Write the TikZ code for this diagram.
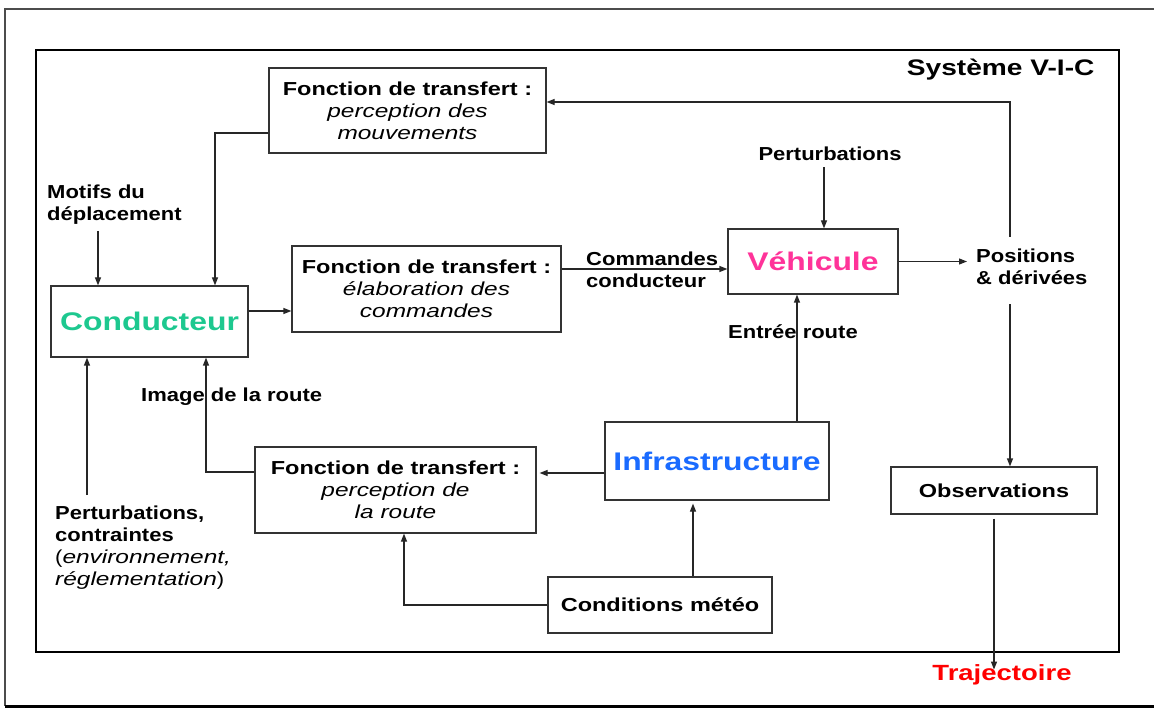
\documentclass[tikz,border=0pt]{standalone}
\usepackage{fontspec}
\setmainfont{Liberation Sans}[FakeStretch=1.25]
\newfontfamily\lblfont{Liberation Sans}[FakeStretch=1.17]
\newfontfamily\itfont{Liberation Sans}[FakeStretch=1.3]
\newcommand{\ittext}[1]{{\itfont\mdseries\itshape #1}}
\usetikzlibrary{arrows.meta}

\definecolor{condcol}{RGB}{29,200,143}
\definecolor{vehcol}{RGB}{255,51,153}
\definecolor{infcol}{RGB}{26,107,255}

\begin{document}
\begin{tikzpicture}[x=1pt, y=-1pt,
	every node/.style={font=\fontsize{18.8}{22}\selectfont\bfseries},
	box/.style={draw=black!80, line width=1.2pt, align=center, inner sep=0pt},
	big/.style={font=\fontsize{25.5}{30}\selectfont\bfseries},
	lbl/.style={align=left, inner sep=1pt, font=\lblfont\fontsize{18.8}{22}\selectfont\bfseries},
	arr/.style={draw=black!85, line width=1.2pt, -{Triangle[length=8pt,width=6pt]}}]
	\useasboundingbox (0, 0) rectangle (1154, 708);

	\draw[black!70, line width=1.5pt] (1160, 9) -- (5, 9) -- (5, 706);
	\draw[line width=3pt] (5, 706) -- (1160, 706);
	\draw[line width=2pt] (36, 50) rectangle (1119, 652);
	\node[anchor=east, font=\fontsize{22.5}{26}\selectfont\bfseries] (sys) at (1098, 70) {Système V-I-C};

	\node[box, minimum width=277pt, minimum height=85pt] (pm) at (407.5, 110.5)
		{Fonction de transfert :\\\ittext{perception des}\\\ittext{mouvements}};
	\node[box, minimum width=269pt, minimum height=86pt] (ec) at (426.5, 289)
		{Fonction de transfert :\\\ittext{élaboration des}\\\ittext{commandes}};
	\node[box, minimum width=281pt, minimum height=86pt] (pr) at (395.5, 490)
		{Fonction de transfert :\\\ittext{perception de}\\\ittext{la route}};

	\node[box, big, text=condcol, minimum width=197pt, minimum height=71pt] (cond) at (149.5, 321.5) {Conducteur};
	\node[box, big, text=vehcol, minimum width=170pt, minimum height=65pt] (veh) at (813, 261.5) {Véhicule};
	\node[box, big, text=infcol, minimum width=224pt, minimum height=78pt] (infra) at (717, 461) {Infrastructure};
	\node[box, minimum width=206pt, minimum height=47pt] (obs) at (994, 490.5) {Observations};
	\node[box, minimum width=224pt, minimum height=56pt] (meteo) at (660, 605) {Conditions météo};

	\node[lbl, anchor=west] (motifs) at (46, 205) {Motifs du\\déplacement};
	\node[lbl, anchor=west] (pc) at (54, 548)
		{Perturbations,\\contraintes\\{\mdseries(}\ittext{environnement,}\\\ittext{réglementation}{\mdseries)}};
	\node[lbl] (pert) at (830, 154) {Perturbations};
	\node[lbl, anchor=west] (cmd) at (585, 270) {Commandes\\conducteur};
	\node[lbl, anchor=west] (pos) at (975, 267) {Positions\\\& dérivées};
	\node[lbl, anchor=west] (entree) at (727, 332) {Entrée route};
	\node[lbl, anchor=west] (img) at (140, 397) {Image de la route};
	\node[inner sep=1pt, text=red, font=\fontsize{22}{26}\selectfont\bfseries] (traj) at (1002, 675) {Trajectoire};

	\draw[arr, shorten <=5pt] ([xshift=-51.5pt]cond.north |- motifs.south) -- ([xshift=-51.5pt]cond.north);
	\draw[arr] ([yshift=-22.5pt]pm.west) -| ([xshift=65.5pt]cond.north);
	\draw[arr] ([yshift=10.5pt]cond.east) -- ([yshift=-22pt]ec.west);
	\draw[arr] ([yshift=20pt]ec.east) -- ([yshift=-7.5pt]veh.west);
	\draw[arr] ([xshift=11pt,yshift=-5pt]pert.south -| veh.north) -- ([xshift=11pt]veh.north);
	\draw[arr, shorten >=8pt] (veh.east) -- (veh.east -| pos.west);
	\draw[arr] ([xshift=16pt,yshift=11pt]obs.north |- pos.north) |- ([yshift=8.5pt]pm.east);
	\draw[arr] ([xshift=16pt,yshift=-18pt]obs.north |- pos.south) -- ([xshift=16pt]obs.north);
	\draw[arr, shorten <=4pt, shorten >=-6pt] (obs.south) -- (obs.south |- traj.north);
	\draw[arr] ([xshift=80pt]infra.north) -- ([xshift=80pt]infra.north |- veh.south);
	\draw[arr, shorten >=3pt] ([yshift=-12pt]infra.west) -- ([yshift=-12pt]infra.west -| pr.east);
	\draw[arr] ([yshift=18pt]pr.west) -| ([xshift=56.5pt]cond.south);
	\draw[arr] (meteo.west) -| ([xshift=8.5pt]pr.south);
	\draw[arr, shorten >=3pt] ([xshift=33pt]meteo.north) -- ([xshift=33pt]meteo.north |- infra.south);
	\draw[arr, shorten <=10pt] ([xshift=-62.5pt]cond.south |- pc.north) -- ([xshift=-62.5pt]cond.south);

\end{tikzpicture}
\end{document}
